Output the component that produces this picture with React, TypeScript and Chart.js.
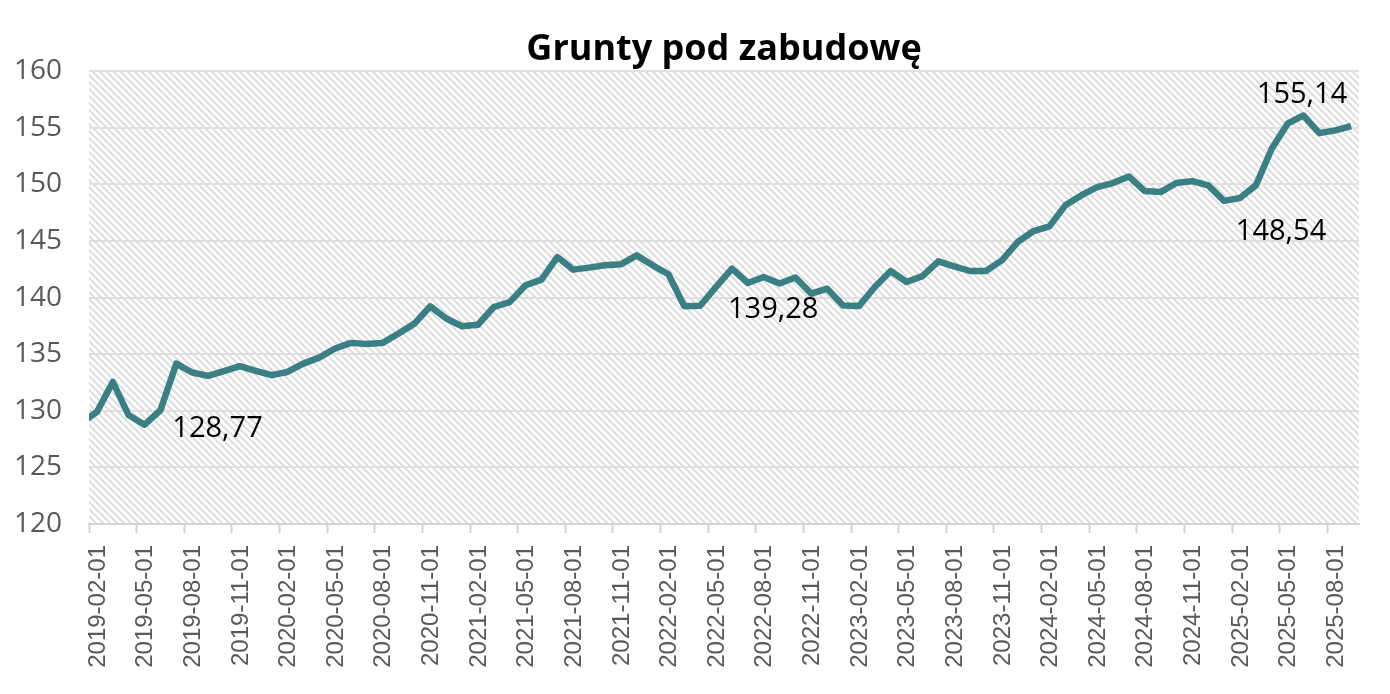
import { useEffect, useRef } from 'react';
import { Chart, registerables } from 'chart.js';

Chart.register(...registerables);

// monthly index values, first entry is 2019-01 (mostly outside the axis range)
const firstMonth = '2019-01';
const values = [
  128.9, 129.9, 132.55, 129.6, 128.77, 130.05, 134.17, 133.38, 133.08, 133.5, 133.94, 133.53,
  133.15, 133.43, 134.17, 134.7, 135.5, 136.0, 135.9, 136.0, 136.83, 137.7, 139.23, 138.15,
  137.47, 137.6, 139.17, 139.6, 141.09, 141.59, 143.58, 142.47, 142.65, 142.85, 142.94, 143.73,
  142.85, 142.06, 139.23, 139.28, 140.94, 142.56, 141.29, 141.82, 141.24, 141.77, 140.35, 140.79,
  139.3, 139.25, 140.94, 142.35, 141.38, 141.9, 143.2, 142.76, 142.35, 142.35, 143.29, 144.91,
  145.88, 146.29, 148.15, 149.03, 149.76, 150.12, 150.7, 149.41, 149.32, 150.12, 150.29, 149.91,
  148.54, 148.8, 149.91, 153.15, 155.36, 156.09, 154.53, 154.77, 155.14,
];

const tickLabels = [
  '2019-02-01', '2019-05-01', '2019-08-01', '2019-11-01', '2020-02-01', '2020-05-01',
  '2020-08-01', '2020-11-01', '2021-02-01', '2021-05-01', '2021-08-01', '2021-11-01',
  '2022-02-01', '2022-05-01', '2022-08-01', '2022-11-01', '2023-02-01', '2023-05-01',
  '2023-08-01', '2023-11-01', '2024-02-01', '2024-05-01', '2024-08-01', '2024-11-01',
  '2025-02-01', '2025-05-01', '2025-08-01',
];
const axisStart = '2019-02';
const axisEnd = '2025-10';

const yTicks = [120, 125, 130, 135, 140, 145, 150, 155, 160];

// annotated months
const labelMonths = ['2019-05', '2022-04', '2025-01', '2025-09'];

const TITLE = 'Grunty pod zabudowę';

const monthNo = (s: string) => {
  const [y, m] = s.split('-').map(Number);
  return y * 12 + (m - 1);
};
const axisPos = (s: string) => monthNo(s) - monthNo(axisStart);
const months = values.map((_, i) => {
  const n = monthNo(firstMonth) + i;
  return `${Math.floor(n / 12)}-${String((n % 12) + 1).padStart(2, '0')}`;
});

// label offsets from the point, in px (text centre x, baseline y)
const labelOffsets = [
  [73, 12],
  [73, 12.5],
  [57, 39],
  [-49, -23],
];

const fmt = (v: number) => v.toFixed(2).replace('.', ',');

let hatch: CanvasPattern | null = null;
const hatchPlugin = {
  id: 'hatch',
  beforeDraw(chart: any) {
    const { ctx, chartArea: a } = chart;
    if (!hatch) {
      const s = 7;
      const c = document.createElement('canvas');
      c.width = s;
      c.height = s;
      const g = c.getContext('2d')!;
      g.fillStyle = '#ffffff';
      g.fillRect(0, 0, s, s);
      g.strokeStyle = '#dedede';
      g.lineWidth = 2;
      g.beginPath();
      g.moveTo(-s, 0); g.lineTo(s, 2 * s);
      g.moveTo(0, 0); g.lineTo(s, s);
      g.moveTo(0, -s); g.lineTo(2 * s, s);
      g.stroke();
      hatch = ctx.createPattern(c, 'repeat');
    }
    ctx.save();
    ctx.fillStyle = hatch;
    ctx.fillRect(a.left, a.top, a.right - a.left, a.bottom - a.top);
    ctx.restore();
  },
};

const valueLabels = {
  id: 'valueLabels',
  afterDatasetsDraw(chart: any) {
    const { ctx } = chart;
    const meta = chart.getDatasetMeta(0);
    ctx.save();
    ctx.font = '29px "Open Sans"';
    ctx.fillStyle = '#000000';
    ctx.textAlign = 'center';
    ctx.textBaseline = 'alphabetic';
    labelMonths.forEach((m, k) => {
      const i = months.indexOf(m);
      const el = meta.data[i];
      if (!el) return;
      const [dx, dy] = labelOffsets[k];
      ctx.fillText(fmt(values[i]), el.x + dx, el.y + dy);
    });
    ctx.restore();
  },
};

export default function App() {
  const canvasRef = useRef<HTMLCanvasElement>(null);

  useEffect(() => {
    if (!canvasRef.current) return;
    const chart = new Chart(canvasRef.current, {
      type: 'line',
      data: {
        datasets: [
          {
            label: TITLE,
            data: values.map((v, i) => ({ x: axisPos(months[i]) + 0.5, y: v })),
            borderColor: '#397f84',
            borderWidth: 6.5,
            borderJoinStyle: 'round',
            pointRadius: 0,
            tension: 0,
            clip: 0,
          },
        ],
      },
      options: {
        animation: false,
        responsive: false,
        devicePixelRatio: 1,
        layout: { padding: { left: 0, right: 31, top: 0, bottom: 0 } },
        plugins: {
          legend: { display: false },
          tooltip: { enabled: false },
          title: {
            display: true,
            text: TITLE,
            fullSize: false,
            color: '#000000',
            font: { family: '"Open Sans"', size: 36, weight: 'bold' },
            padding: { top: 28, bottom: 0 },
          },
        },
        scales: {
          x: {
            type: 'linear',
            min: 0,
            max: axisPos(axisEnd),
            afterFit: (s: any) => { s.height = 170; },
            afterBuildTicks: (s: any) => {
              s.ticks = tickLabels.map((t) => ({ value: axisPos(t.slice(0, 7)) }));
            },
            ticks: {
              autoSkip: false,
              minRotation: 90,
              maxRotation: 90,
              padding: 12,
              labelOffset: 9,
              color: '#595959',
              font: { family: '"Liberation Sans"', size: 24 },
              callback: (v: any) => tickLabels.find((t) => axisPos(t.slice(0, 7)) === v) ?? '',
            },
            grid: {
              drawOnChartArea: false,
              drawTicks: true,
              tickLength: 9,
              tickColor: '#d4d4d4',
              tickWidth: 2,
            },
            border: { display: true, color: '#d4d4d4', width: 2 },
          },
          y: {
            min: yTicks[0],
            max: yTicks[yTicks.length - 1],
            afterFit: (s: any) => { s.width = 89; },
            afterBuildTicks: (s: any) => {
              s.ticks = yTicks.map((v) => ({ value: v }));
            },
            ticks: {
              padding: 27,
              color: '#595959',
              font: { family: '"Open Sans"', size: 28 },
            },
            grid: { color: '#e0e0e0', lineWidth: 2, drawTicks: false },
            border: { display: false },
          },
        },
      },
      plugins: [hatchPlugin, valueLabels],
    });
    return () => chart.destroy();
  }, []);

  return (
    <div style={{ position: 'absolute', left: 0, top: 0, width: 1390, height: 694, background: '#fff' }}>
      <canvas ref={canvasRef} width={1390} height={694} style={{ width: 1390, height: 694 }} />
    </div>
  );
}
